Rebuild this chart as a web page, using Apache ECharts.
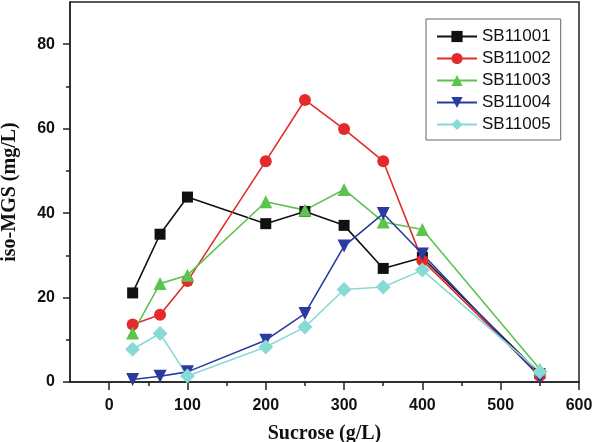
<!DOCTYPE html>
<html>
<head>
<meta charset="utf-8">
<script src="https://cdn.jsdelivr.net/npm/echarts@6/dist/echarts.min.js"></script>
<style>
html,body{margin:0;padding:0;background:#fff;}
#chart{width:601px;height:442px;}
</style>
</head>
<body>
<div id="chart"></div>
<script>
var sucrose = [30, 65, 100, 200, 250, 300, 350, 400, 550];
var sb11001 = [21.1, 35.0, 43.8, 37.5, 40.4, 37.1, 26.9, 29.5, 2.0];
var sb11002 = [13.6, 15.9, 23.9, 52.3, 66.8, 59.9, 52.3, 28.8, 1.5];
var sb11003 = [11.6, 23.3, 25.3, 42.7, 40.7, 45.6, 37.9, 36.1, 3.0];
var sb11004 = [0.6, 1.35, 2.4, 9.9, 16.2, 32.2, 39.9, 30.3, 1.2];
var sb11005 = [7.75, 11.5, 1.4, 8.3, 13.0, 21.9, 22.5, 26.5, 2.4];

var seriesNames = ['SB11001', 'SB11002', 'SB11003', 'SB11004', 'SB11005'];
var seriesValues = [sb11001, sb11002, sb11003, sb11004, sb11005];

var xMajorTicks = [0, 100, 200, 300, 400, 500, 600];
var xMinorTicks = [50, 150, 250, 350, 450, 550];
var yMajorTicks = [0, 20, 40, 60, 80];
var yMinorTicks = [10, 30, 50, 70];

var colors = ['#111111', '#e42b2b', '#5cc44e', '#2a3a9e', '#88dad5'];
var symbols = ['rect', 'circle', 'triangle', 'triangle', 'diamond'];
var symbolSizes = [11, 12, 13, 13, 15];
var symbolRotates = [0, 0, 0, 180, 0];

function pairs(xs, ys) {
  return xs.map(function (x, i) { return [x, ys[i]]; });
}

var axisColor = '#222';
var labelFont = {fontFamily: 'Liberation Sans', fontSize: 16, fontWeight: 'bold', color: '#111'};
var nameFont = {fontFamily: 'Liberation Serif', fontSize: 20, fontWeight: 'bold', color: '#111'};

var series = seriesNames.map(function (name, i) {
  return {
    name: name,
    type: 'line',
    xAxisIndex: 0,
    yAxisIndex: 0,
    data: pairs(sucrose, seriesValues[i]),
    symbol: symbols[i],
    symbolSize: symbolSizes[i],
    symbolRotate: symbolRotates[i],
    showAllSymbol: true,
    lineStyle: {color: colors[i], width: 1.6},
    itemStyle: {color: colors[i], borderWidth: 0},
    emphasis: {disabled: true},
    animation: false
  };
});

var option = {
  backgroundColor: '#fff',
  animation: false,
  grid: {
    left: 70, right: 22, top: 2, bottom: 60,
    containLabel: false, outerBoundsMode: 'none',
    show: true, borderColor: axisColor, borderWidth: 1.5, backgroundColor: 'transparent'
  },
  legend: {
    data: seriesNames,
    orient: 'vertical',
    left: 426, top: 19,
    itemWidth: 40, itemHeight: 14, itemGap: 5,
    padding: [9, 10, 7, 10],
    borderColor: '#666', borderWidth: 1, backgroundColor: '#fff',
    textStyle: {fontFamily: 'Liberation Sans', fontSize: 17, color: '#111', lineHeight: 17},
    selectedMode: false
  },
  xAxis: [{
    type: 'value', min: -50, max: 600,
    name: 'Sucrose (g/L)', nameLocation: 'middle', nameGap: 42,
    nameTextStyle: nameFont,
    axisLine: {show: true, onZero: false, lineStyle: {color: axisColor, width: 1.5}},
    axisTick: {show: true, customValues: xMajorTicks, length: 8, lineStyle: {color: axisColor, width: 1.5}},
    axisLabel: Object.assign({customValues: xMajorTicks, margin: 16}, labelFont),
    splitLine: {show: false}
  }, {
    type: 'value', min: -50, max: 600, position: 'bottom', gridIndex: 0,
    axisLine: {show: false, onZero: false},
    axisTick: {show: true, customValues: xMinorTicks, length: 4, lineStyle: {color: axisColor, width: 1.5}},
    axisLabel: {show: false},
    splitLine: {show: false}
  }],
  yAxis: [{
    type: 'value', min: 0, max: 90,
    name: 'iso-MGS (mg/L)', nameLocation: 'middle', nameGap: 50,
    nameTextStyle: nameFont,
    axisLine: {show: true, onZero: false, lineStyle: {color: axisColor, width: 1.5}},
    axisTick: {show: true, customValues: yMajorTicks, length: 7, lineStyle: {color: axisColor, width: 1.5}},
    axisLabel: Object.assign({customValues: yMajorTicks, margin: 15}, labelFont),
    splitLine: {show: false}
  }, {
    type: 'value', min: 0, max: 90, position: 'left', gridIndex: 0,
    axisLine: {show: false, onZero: false},
    axisTick: {show: true, customValues: yMinorTicks, length: 4, lineStyle: {color: axisColor, width: 1.5}},
    axisLabel: {show: false},
    splitLine: {show: false}
  }],
  series: series
};

var chart = echarts.init(document.getElementById('chart'), null, {renderer: 'canvas'});
chart.setOption(option);
</script>
</body>
</html>
